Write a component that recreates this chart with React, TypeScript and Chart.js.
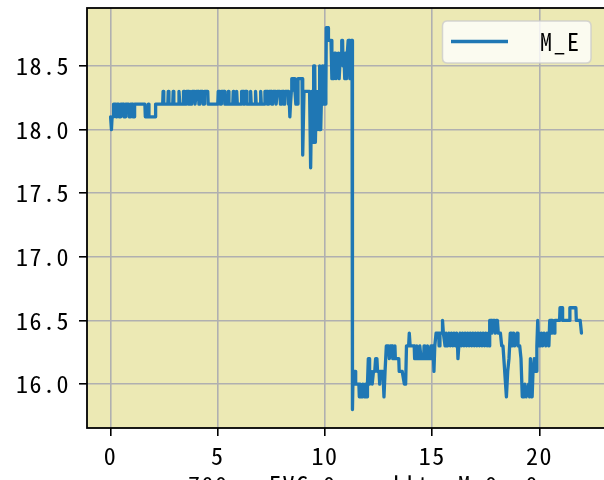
import React, { useEffect, useRef } from 'react';
import { Chart, registerables } from 'chart.js';

Chart.register(...registerables);

// ---- data (time in s, value of M_E) ----
const startSeg: [number, number][] = [
  [0.00, 18.1], [0.04, 18.0], [0.07, 18.1], [0.12, 18.1], [0.14, 18.2], [0.24, 18.2], [0.26, 18.1], [0.29, 18.2],
  [0.38, 18.2], [0.40, 18.1], [0.45, 18.1], [0.47, 18.2], [0.60, 18.2], [0.62, 18.1], [0.68, 18.1], [0.70, 18.2],
  [0.84, 18.2], [0.86, 18.1], [0.91, 18.1], [0.93, 18.2], [1.02, 18.2], [1.04, 18.1], [1.10, 18.1], [1.12, 18.2],
  [1.60, 18.2], [1.62, 18.1], [1.74, 18.1], [1.76, 18.2], [1.79, 18.1], [2.08, 18.1], [2.10, 18.2], [2.43, 18.2],
];

const plateauSeg: [number, number][] = [
  [2.45, 18.3], [2.48, 18.2], [2.67, 18.2], [2.69, 18.3], [2.72, 18.2], [2.90, 18.2], [2.92, 18.3], [2.95, 18.2],
  [3.17, 18.2], [3.19, 18.3], [3.23, 18.2], [3.38, 18.2], [3.40, 18.3], [3.46, 18.3], [3.48, 18.2], [3.52, 18.2],
  [3.54, 18.3], [3.62, 18.3], [3.64, 18.2], [3.68, 18.2], [3.70, 18.3], [3.72, 18.2], [3.78, 18.2], [3.80, 18.3],
  [3.92, 18.3], [3.94, 18.2], [3.98, 18.2], [4.00, 18.3], [4.10, 18.3], [4.12, 18.2], [4.16, 18.2], [4.18, 18.3],
  [4.30, 18.3], [4.32, 18.2], [4.36, 18.2], [4.38, 18.3], [4.53, 18.3], [4.55, 18.2], [5.00, 18.2], [5.02, 18.3],
  [5.10, 18.3], [5.12, 18.2], [5.15, 18.2], [5.17, 18.3], [5.31, 18.3], [5.33, 18.2], [5.47, 18.2], [5.49, 18.3],
  [5.52, 18.2], [5.70, 18.2], [5.72, 18.3], [5.75, 18.2], [5.86, 18.2], [5.88, 18.3], [5.91, 18.2], [6.09, 18.2],
  [6.11, 18.3], [6.18, 18.3], [6.20, 18.2], [6.24, 18.2], [6.26, 18.3], [6.34, 18.3], [6.36, 18.2], [6.51, 18.2],
  [6.53, 18.3], [6.56, 18.2], [6.74, 18.2], [6.76, 18.3], [6.79, 18.2], [6.98, 18.2], [7.00, 18.3], [7.03, 18.2],
  [7.18, 18.2], [7.20, 18.3], [7.30, 18.3], [7.32, 18.2], [7.36, 18.2], [7.38, 18.3], [7.50, 18.3], [7.52, 18.2],
  [7.56, 18.2], [7.58, 18.3], [7.70, 18.3], [7.72, 18.2], [7.76, 18.2], [7.78, 18.3], [7.90, 18.3], [7.92, 18.2],
  [7.96, 18.2], [7.98, 18.3], [8.06, 18.3], [8.08, 18.2], [8.12, 18.2], [8.14, 18.3], [8.28, 18.3], [8.30, 18.2],
  [8.34, 18.2],
];

const surgeSeg: [number, number][] = [
  [8.36, 18.1], [8.39, 18.2], [8.43, 18.3], [8.45, 18.4], [8.58, 18.4], [8.60, 18.3], [8.64, 18.2], [8.68, 18.3],
  [8.72, 18.2], [8.74, 18.4], [8.93, 18.4], [8.95, 18.3], [8.97, 17.8], [9.02, 18.3], [9.28, 18.3], [9.33, 17.7],
  [9.38, 18.3], [9.44, 17.9], [9.47, 18.5], [9.52, 18.5], [9.55, 17.9], [9.60, 18.3], [9.64, 18.0], [9.68, 18.3],
  [9.72, 18.0], [9.75, 18.5], [9.80, 18.0], [9.84, 18.3], [9.88, 18.5], [9.92, 18.2], [9.96, 18.5], [10.00, 18.2],
  [10.04, 18.3], [10.06, 18.8], [10.14, 18.8], [10.16, 18.7], [10.28, 18.7], [10.32, 18.4], [10.36, 18.6], [10.40, 18.4],
  [10.44, 18.6], [10.50, 18.6], [10.52, 18.4], [10.58, 18.5], [10.62, 18.6], [10.66, 18.4], [10.72, 18.6], [10.76, 18.6],
  [10.78, 18.7], [10.82, 18.7], [10.84, 18.5], [10.88, 18.6], [10.92, 18.4], [10.96, 18.6], [11.00, 18.4], [11.04, 18.6],
  [11.08, 18.7], [11.14, 18.7], [11.16, 18.4], [11.20, 18.5], [11.22, 18.7], [11.26, 18.7],
];

const lowSeg: [number, number][] = [
  [11.28, 15.8], [11.31, 16.1], [11.40, 16.1], [11.43, 16.0], [11.58, 16.0], [11.60, 15.9], [11.64, 16.0], [11.68, 15.9],
  [11.74, 15.9], [11.76, 16.0], [11.84, 15.9], [11.88, 16.0], [11.92, 15.9], [11.96, 15.9], [11.98, 16.0], [12.02, 16.2],
  [12.06, 16.2], [12.08, 16.0], [12.14, 16.1], [12.20, 16.0], [12.26, 16.1], [12.32, 16.1], [12.36, 16.2], [12.42, 16.2],
  [12.45, 16.1], [12.52, 16.1], [12.55, 16.0], [12.58, 16.1], [12.70, 16.1], [12.75, 15.9], [12.80, 16.1], [12.86, 16.3],
  [12.96, 16.3], [13.00, 16.2], [13.04, 16.3], [13.14, 16.3], [13.16, 16.2], [13.24, 16.2], [13.26, 16.3], [13.28, 16.2],
  [13.44, 16.2], [13.46, 16.1], [13.60, 16.1], [13.70, 16.0], [13.76, 16.0], [13.80, 16.3], [13.90, 16.3], [13.93, 16.4],
  [13.97, 16.3], [14.16, 16.3], [14.18, 16.2], [14.26, 16.2], [14.28, 16.3], [14.32, 16.2], [14.40, 16.2], [14.42, 16.3],
  [14.48, 16.2], [14.60, 16.2], [14.62, 16.3], [14.66, 16.2], [14.76, 16.2], [14.78, 16.3], [14.82, 16.2], [14.92, 16.2],
  [14.94, 16.3], [15.04, 16.3], [15.08, 16.1], [15.12, 16.3], [15.18, 16.4], [15.30, 16.4], [15.32, 16.3], [15.36, 16.4],
  [15.46, 16.4], [15.48, 16.5], [15.52, 16.4], [15.60, 16.3], [15.64, 16.4], [15.72, 16.3], [15.78, 16.4], [15.84, 16.3],
  [15.90, 16.4], [15.96, 16.3], [16.02, 16.4], [16.08, 16.3], [16.14, 16.4], [16.18, 16.3], [16.20, 16.2], [16.24, 16.3],
  [16.30, 16.4], [16.36, 16.3], [16.42, 16.4], [16.48, 16.3], [16.54, 16.4], [16.60, 16.3], [16.66, 16.4], [16.72, 16.3],
  [16.78, 16.4], [16.84, 16.3], [16.90, 16.4], [16.96, 16.3], [17.02, 16.4], [17.08, 16.3], [17.14, 16.4], [17.20, 16.3],
  [17.26, 16.4], [17.32, 16.3], [17.38, 16.4], [17.44, 16.3], [17.50, 16.4], [17.56, 16.3], [17.62, 16.4], [17.66, 16.3],
  [17.68, 16.5], [17.76, 16.5], [17.78, 16.4], [17.82, 16.5], [17.92, 16.5], [17.94, 16.4], [17.98, 16.5], [18.04, 16.5],
  [18.08, 16.4], [18.18, 16.4], [18.24, 16.3], [18.30, 16.3], [18.46, 15.9], [18.52, 16.1], [18.58, 16.2], [18.64, 16.4],
  [18.68, 16.4], [18.72, 16.3], [18.80, 16.4], [18.84, 16.3], [18.96, 16.4], [19.00, 16.3], [19.08, 16.3], [19.14, 16.2],
  [19.20, 15.9], [19.28, 15.9], [19.32, 16.0], [19.38, 15.9], [19.50, 16.0], [19.54, 15.9], [19.58, 16.2], [19.62, 15.9],
  [19.66, 15.9], [19.70, 16.1], [19.76, 16.2], [19.80, 16.1], [19.86, 16.1], [19.88, 16.3], [19.92, 16.5], [19.96, 16.3],
  [20.00, 16.4], [20.05, 16.3], [20.10, 16.4], [20.15, 16.3], [20.22, 16.4], [20.30, 16.3], [20.36, 16.4], [20.44, 16.3],
  [20.48, 16.5], [20.56, 16.5], [20.58, 16.4], [20.62, 16.5], [20.68, 16.4], [20.72, 16.5], [20.94, 16.5], [20.96, 16.6],
  [21.06, 16.6], [21.08, 16.5], [21.40, 16.5], [21.42, 16.6], [21.70, 16.6], [21.72, 16.5], [21.90, 16.5], [21.96, 16.4],
];

const seriesLabel = 'M_E';
const xTicks = [0, 5, 10, 15, 20];
const yTicks = [16.0, 16.5, 17.0, 17.5, 18.0, 18.5];
const xTitle = '700   EVC 0    llt  M_0, 0';

const W = 660;
const H = 520;
const FONT = "'Noto Sans Mono CJK JP', 'DejaVu Sans Mono', monospace";
const BG = '#ece9b4';
const LINE = '#1f77b4';
const GRID = '#b0b0b0';

const decorPlugin = {
  id: 'decor',
  beforeUpdate(chart: any) {
    (chart.ctx as any).letterSpacing = '1.5px';
  },
  beforeDraw(chart: any) {
    const { ctx, chartArea: a } = chart;
    (ctx as any).letterSpacing = '1.5px';
    ctx.save();
    ctx.fillStyle = BG;
    ctx.fillRect(a.left, a.top, a.right - a.left, a.bottom - a.top);
    ctx.restore();
  },
  afterDatasetsDraw(chart: any) {
    const { ctx, chartArea: a } = chart;
    ctx.save();
    // axes frame
    ctx.strokeStyle = '#000';
    ctx.lineWidth = 1.8;
    ctx.strokeRect(a.left, a.top, a.right - a.left, a.bottom - a.top);
    // legend
    const lx = 442.5, ly = 21, lw = 148.5, lh = 42, r = 5;
    ctx.beginPath();
    ctx.moveTo(lx + r, ly);
    ctx.lineTo(lx + lw - r, ly);
    ctx.quadraticCurveTo(lx + lw, ly, lx + lw, ly + r);
    ctx.lineTo(lx + lw, ly + lh - r);
    ctx.quadraticCurveTo(lx + lw, ly + lh, lx + lw - r, ly + lh);
    ctx.lineTo(lx + r, ly + lh);
    ctx.quadraticCurveTo(lx, ly + lh, lx, ly + lh - r);
    ctx.lineTo(lx, ly + r);
    ctx.quadraticCurveTo(lx, ly, lx + r, ly);
    ctx.closePath();
    ctx.fillStyle = 'rgba(255,255,255,0.8)';
    ctx.fill();
    ctx.strokeStyle = 'rgba(204,204,204,0.8)';
    ctx.lineWidth = 1.5;
    ctx.stroke();
    const ds = chart.data.datasets[0];
    ctx.strokeStyle = ds.borderColor;
    ctx.lineWidth = 3.3;
    ctx.beginPath();
    ctx.moveTo(451, 41.5);
    ctx.lineTo(508, 41.5);
    ctx.stroke();
    ctx.fillStyle = '#000';
    ctx.font = `24px ${FONT}`;
    ctx.textBaseline = 'middle';
    ctx.textAlign = 'left';
    ctx.fillText(ds.label, 540, 42);
    ctx.restore();
  },
};

const zeroPad = (s: any) => {
  s.paddingTop = 0;
  s.paddingBottom = 0;
  s.paddingLeft = 0;
  s.paddingRight = 0;
};

export default function App() {
  const ref = useRef<HTMLCanvasElement>(null);
  useEffect(() => {
    document.body.style.overflow = 'hidden';
    const points = [...startSeg, ...plateauSeg, ...surgeSeg, ...lowSeg].map(([x, y]) => ({ x, y }));
    const chart = new Chart(ref.current!, {
      type: 'line',
      data: {
        datasets: [
          {
            label: seriesLabel,
            data: points,
            borderColor: LINE,
            backgroundColor: LINE,
            borderWidth: 3.3,
            pointRadius: 0,
            tension: 0,
            borderJoinStyle: 'round',
            borderCapStyle: 'round',
          },
        ],
      },
      options: {
        animation: false,
        responsive: false,
        devicePixelRatio: 1,
        layout: { padding: { left: 0, top: 8, right: 20, bottom: 19 } },
        plugins: { legend: { display: false }, tooltip: { enabled: false } },
        scales: {
          x: {
            type: 'linear',
            min: -1.1,
            max: 24.69,
            afterBuildTicks: (s: any) => {
              s.ticks = xTicks.map((v) => ({ value: v }));
            },
            afterFit: (s: any) => {
              s.height = 73;
              zeroPad(s);
            },
            grid: { color: GRID, lineWidth: 1.6, tickColor: '#000', tickLength: 8, tickWidth: 1.6 },
            border: { display: false },
            ticks: {
              color: '#000',
              font: { family: FONT, size: 24 },
              padding: 5,
              maxRotation: 0,
              autoSkip: false,
              callback: (v: any) => String(v),
            },
            title: {
              display: true,
              text: xTitle,
              color: '#000',
              font: { family: FONT, size: 24 },
              padding: { top: 2, bottom: 2 },
            },
          },
          y: {
            type: 'linear',
            min: 15.655,
            max: 18.955,
            afterBuildTicks: (s: any) => {
              s.ticks = yTicks.map((v) => ({ value: v }));
            },
            afterFit: (s: any) => {
              s.width = 87;
              zeroPad(s);
            },
            grid: { color: GRID, lineWidth: 1.6, tickColor: '#000', tickLength: 8, tickWidth: 1.6 },
            border: { display: false },
            ticks: {
              color: '#000',
              font: { family: FONT, size: 24 },
              padding: 9,
              autoSkip: false,
              callback: (v: any) => Number(v).toFixed(1),
            },
          },
        },
      },
      plugins: [decorPlugin],
    } as any);
    return () => chart.destroy();
  }, []);
  return (
    <div style={{ position: 'fixed', left: 0, top: 0, width: W, height: H }}>
      <canvas ref={ref} width={W} height={H} style={{ display: 'block', width: W, height: H }} />
    </div>
  );
}
